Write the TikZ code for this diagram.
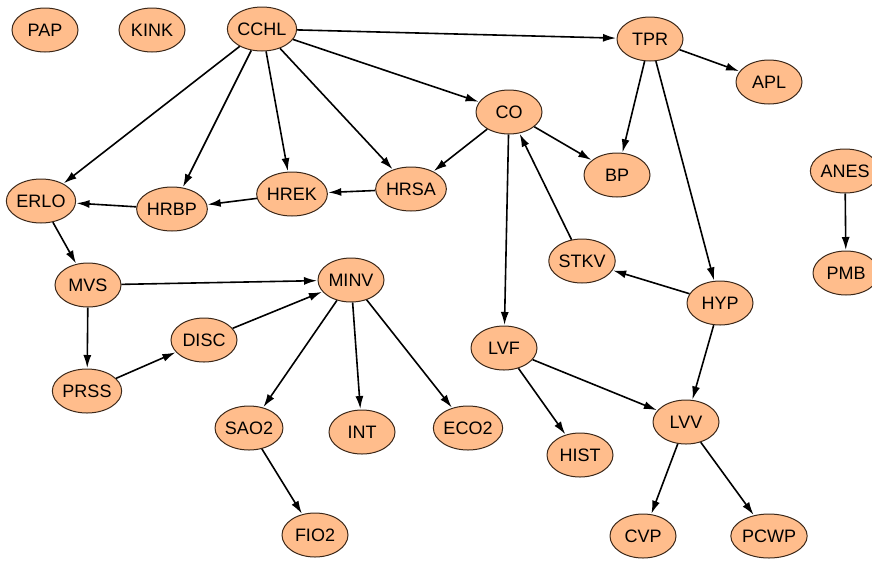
\documentclass[tikz,border=0pt]{standalone}
\usepackage{fontspec}
\setmainfont{Liberation Sans}
\usepackage{tikz}
\usetikzlibrary{arrows.meta}
\usetikzlibrary{shapes.geometric}

\definecolor{varfill}{RGB}{255,189,140}
\definecolor{varline}{RGB}{60,40,25}

\tikzset{
    var/.style = {ellipse, draw = varline, line width = 1pt, fill = varfill,
        minimum width = 66, minimum height = 44, inner sep = 0,
        font = \fontsize{18}{20}\selectfont},
    link/.style = {-{Latex[length = 13pt, width = 8pt]}, line width = 1.6pt,
        shorten >= 0.5pt}
}

\begin{document}
\begin{tikzpicture} [x = 1pt, y = -1pt]
    \useasboundingbox (0, 0) rectangle (872, 563);

    \node[var] (PAP)  at (45, 30)   {PAP};
    \node[var] (KINK) at (152, 30)  {KINK};
    \node[var] (CCHL) at (262, 29)  {CCHL};
    \node[var] (TPR)  at (650, 39)  {TPR};
    \node[var] (APL)  at (769, 82)  {APL};
    \node[var] (CO)   at (509, 112) {CO};
    \node[var] (BP)   at (617, 175) {BP};
    \node[var] (ANES) at (845, 171) {ANES};
    \node[var] (PMB)  at (846, 273) {PMB};
    \node[var] (ERLO) at (41, 201)  {ERLO};
    \node[var] (HRBP) at (172, 209) {HRBP};
    \node[var] (HREK) at (292, 194) {HREK};
    \node[var] (HRSA) at (411, 189) {HRSA};
    \node[var] (STKV) at (582, 261) {STKV};
    \node[var] (MVS)  at (88, 285)  {MVS};
    \node[var] (MINV) at (351, 280) {MINV};
    \node[var] (HYP)  at (720, 303) {HYP};
    \node[var] (DISC) at (204, 340) {DISC};
    \node[var] (LVF)  at (504, 348) {LVF};
    \node[var] (PRSS) at (87, 391)  {PRSS};
    \node[var] (SAO2) at (249, 428) {SAO2};
    \node[var] (INT)  at (362, 432) {INT};
    \node[var] (ECO2) at (468, 428) {ECO2};
    \node[var] (LVV)  at (686, 422) {LVV};
    \node[var] (HIST) at (580, 455) {HIST};
    \node[var] (FIO2) at (315, 535) {FIO2};
    \node[var] (CVP)  at (643, 536) {CVP};
    \node[var] (PCWP) at (769, 536) {PCWP};

    \draw[link] (CCHL) -- (TPR);
    \draw[link] (CCHL) -- (CO);
    \draw[link] (CCHL) -- (ERLO);
    \draw[link] (CCHL) -- (HRBP);
    \draw[link] (CCHL) -- (HREK);
    \draw[link] (CCHL) -- (HRSA);
    \draw[link] (TPR) -- (APL);
    \draw[link] (TPR) -- (BP);
    \draw[link] (TPR) -- (HYP);
    \draw[link] (CO) -- (BP);
    \draw[link] (CO) -- (HRSA);
    \draw[link] (CO) -- (LVF);
    \draw[link] (STKV) -- (CO);
    \draw[link] (ANES) -- (PMB);

    % heart rate chain
    \draw[link] (HRSA) -- (HREK);
    \draw[link] (HREK) -- (HRBP);
    \draw[link] (HRBP) -- (ERLO);

    \draw[link] (ERLO) -- (MVS);
    \draw[link] (MVS) -- (MINV);
    \draw[link] (MVS) -- (PRSS);
    \draw[link] (PRSS) -- (DISC);
    \draw[link] (DISC) -- (MINV);
    \draw[link] (MINV) -- (SAO2);
    \draw[link] (MINV) -- (INT);
    \draw[link] (MINV) -- (ECO2);
    \draw[link] (SAO2) -- (FIO2);

    \draw[link] (HYP) -- (STKV);
    \draw[link] (HYP) -- (LVV);
    \draw[link] (LVF) -- (LVV);
    \draw[link] (LVF) -- (HIST);
    \draw[link] (LVV) -- (CVP);
    \draw[link] (LVV) -- (PCWP);
\end{tikzpicture}
\end{document}
